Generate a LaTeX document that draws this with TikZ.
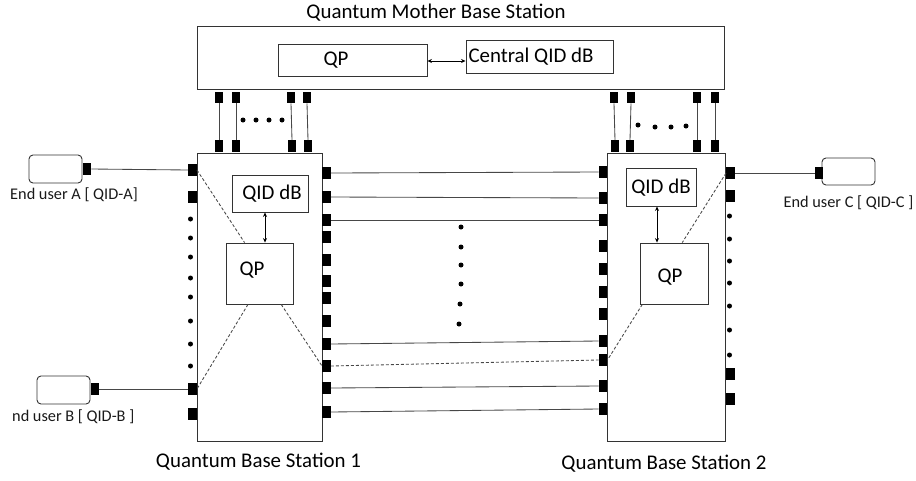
\documentclass[tikz,border=0pt]{standalone}
\usepackage{fontspec}
\setmainfont{Carlito}
\usetikzlibrary{calc,arrows.meta}
\begin{document}
\begin{tikzpicture}[x=1pt,y=-1pt,
  bx/.style={draw=black!80, line width=0.9pt, inner sep=0pt, fill=white},
  ubox/.style={bx, rounded corners=4pt, minimum width=53pt, minimum height=28pt},
  port/.style={fill=black, inner sep=0pt, minimum width=8.5pt, minimum height=11.5pt},
  vport/.style={fill=black, inner sep=0pt, minimum width=8pt, minimum height=11.5pt},
  big/.style={inner sep=0pt, font=\fontsize{20.9}{24}\selectfont, text=black},
  small/.style={inner sep=0pt, font=\fontsize{16.3}{19}\selectfont, text=black!90},
  wire/.style={draw=black!72, line width=0.85pt},
  dwire/.style={draw=black!72, line width=0.85pt, dash pattern=on 3pt off 2pt},
  darr/.style={draw=black, line width=0.8pt, {Stealth[length=4.5pt,width=4pt]}-{Stealth[length=4.5pt,width=4pt]}},
  dot/.style={fill=black}
]
\useasboundingbox (0,0) rectangle (916,480);

% Mother base station
\node[big] (title) at (436,13) {Quantum Mother Base Station};
\node[bx, minimum width=527pt, minimum height=63pt] (mbs) at (460.5,57.5) {};
\node[bx, minimum width=149pt, minimum height=32pt] (mqp) at (352.5,60) {};
\node[big] (mqpt) at (336,60) {QP};
\node[bx, minimum width=147pt, minimum height=33pt] (mcen) at (539.5,56.5) {};
\node[big] (mcent) at (531,57) {Central QID dB};
\draw[darr] (mqp.east |- 0,61) coordinate (ma1) -- (mcen.west |- ma1);

% Stations
\node[bx, minimum width=125pt, minimum height=288pt] (s1) at (259.5,297) {};
\node[bx, minimum width=118pt, minimum height=288pt] (s2) at (666,297) {};

% Mother ports and links
\foreach \x [count=\i] in {219,236,291,307,614,631,697,715}
  \node[vport] (mt\i) at (\x,97.5) {};
\foreach \x [count=\i] in {219,236,292,308,615,630,697,715}
  \node[vport] (mb\i) at (\x,146) {};
\foreach \i in {1,...,8}
  \draw[wire] (mt\i.south) -- (mb\i.north);
\foreach \x in {243,256,269,282} \fill[dot] (\x,120) circle (2.5pt);
\foreach \x/\y in {638/125,655/127,671/127,686/126} \fill[dot] (\x,\y) circle (2.5pt);

% Station 1 internals
\node[bx, minimum width=76pt, minimum height=37pt] (s1db) at (270,193.5) {};
\node[big] (s1dbt) at (272,194) {QID dB};
\node[bx, minimum width=67pt, minimum height=61pt] (s1qp) at (259.5,273.5) {};
\node[big] (s1qpt) at (252,270) {QP};
\draw[darr] (s1db.south -| 265,0) coordinate (s1a) -- (s1qp.north -| s1a);

% Station 2 internals
\node[bx, minimum width=70pt, minimum height=38pt] (s2db) at (661,187) {};
\node[big] (s2dbt) at (661,188) {QID dB};
\node[bx, minimum width=68pt, minimum height=61pt] (s2qp) at (674,273.5) {};
\node[big] (s2qpt) at (670,277) {QP};
\draw[darr] (s2db.south -| 657,0) coordinate (s2a) -- (s2qp.north -| s2a);

% Station 1 left ports
\foreach \y [count=\i] in {170,197,389,414}
  \node[port] (s1l\i) at (192.5,\y) {};
\foreach \y in {219,238,257,278,297,321,344,366} \fill[dot] (190.5,\y) circle (2.5pt);
% Station 1 right ports
\foreach \y [count=\i] in {173,197,220,237,260,281,298,321,344,366,388,412}
  \node[port] (s1r\i) at (326.5,\y) {};
% Station 2 left ports
\foreach \y [count=\i] in {172,198,220,246,269,292,314,341,360,386,409}
  \node[port] (s2l\i) at (603,\y) {};
% Station 2 right ports
\foreach \y [count=\i] in {173,196,374,399}
  \node[port] (s2r\i) at (730.5,\y) {};
\foreach \y in {216,239,261,283,306,330,355} \fill[dot] (729.5,\y) circle (2.5pt);

% Inter-station links
\draw[wire] (s1r1.east) -- (s2l1.west);
\draw[wire] (s1r2.east) -- (s2l2.west);
\draw[wire] (s1r3.east) -- (s2l3.west);
\draw[wire] (s1r9.east) -- (s2l8.west);
\draw[dwire] (s1r10.east) -- (s2l9.west);
\draw[wire] (s1r11.east) -- (s2l10.west);
\draw[wire] (s1r12.east) -- (s2l11.west);
\foreach \x/\y in {461/227,461/247,461/265,461/284,460/304,459/324} \fill[dot] (\x,\y) circle (2.5pt);

% Dashed internal paths
\draw[dwire] (s1l1.east) -- ($(s1qp.north west)!0.28!(s1qp.north east)$);
\draw[dwire] ($(s1qp.south west)!0.33!(s1qp.south east)$) -- (s1l3.east);
\draw[dwire] ($(s1qp.south west)!0.82!(s1qp.south east)$) -- (s1r10.west);
\draw[dwire] (s2r1.west) -- ($(s2qp.north west)!0.62!(s2qp.north east)$);
\draw[dwire] ($(s2qp.south west)!0.04!(s2qp.south east)$) -- (s2l9.east);

% End users
\node[ubox] (uA) at (55.5,169) {};
\node[port] (uAp) at (87,169) {};
\draw[wire] (uAp.east) -- (s1l1.west);
\node[small] (uAt) at (74,195) {End user A [ QID-A]};

\node[ubox] (uB) at (63.5,390) {};
\node[port] (uBp) at (95,389) {};
\draw[wire] (uBp.east) -- (s1l3.west);
\node[small, anchor=west] (uBt) at (12,417) {nd user B [ QID-B ]};

\node[ubox, minimum height=27pt] (uC) at (848.5,171.5) {};
\node[port] (uCp) at (819,173) {};
\draw[wire] (s2r1.east) -- (uCp.west);
\node[small] (uCt) at (848.5,203) {End user C [ QID-C ]};

% Station labels
\node[big] (s1t) at (258.5,462) {Quantum Base Station 1};
\node[big] (s2t) at (664,464) {Quantum Base Station 2};
\end{tikzpicture}
\end{document}
